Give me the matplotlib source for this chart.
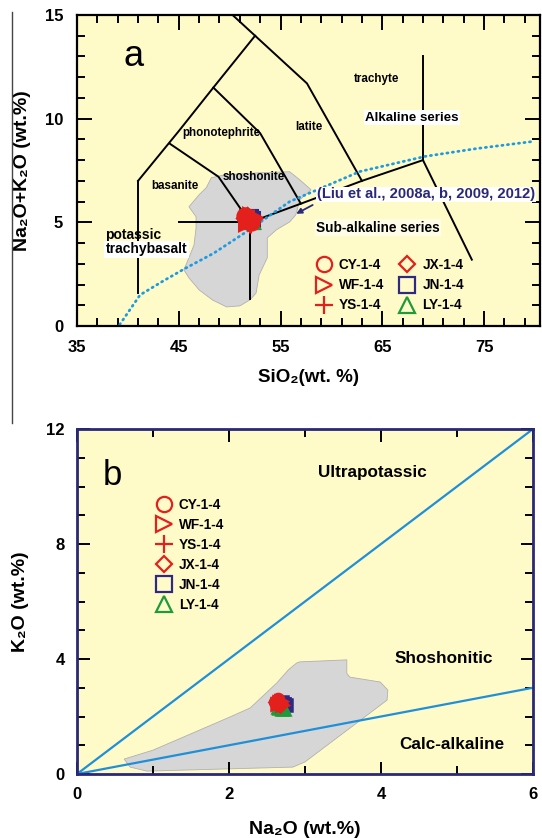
import matplotlib.pyplot as plt
from matplotlib.lines import Line2D
import numpy as np

plt.rcParams['font.family'] = ['Liberation Sans', 'DejaVu Sans']
plt.rcParams['font.weight'] = 'bold'

# ---------------- datos panel a (TAS) ----------------
tas_lines = [
    [(41, 1.6), (41, 7.0)],
    [(41, 7.0), (45, 9.4), (48.4, 11.5), (52.5, 14.0)],
    [(50, 15.13), (52.5, 14.0), (57.6, 11.7), (63, 7.0)],
    [(44.1, 8.8), (48.9, 7.2), (52, 5.0)],
    [(45, 5.0), (52, 5.0)],
    [(52, 1.3), (52, 5.0)],
    [(52, 5.0), (57, 5.9), (63, 7.0), (69, 8.0)],
    [(48.4, 11.5), (53, 9.3), (57, 5.9)],
    [(69, 8.0), (69, 13.0)],
    [(69, 8.0), (73.8, 3.2)],
]

curve_sio2 = [39.2, 41.2, 43.4, 45.6, 48.4, 51.7, 55.9, 62.8, 69.2, 74.3, 79.8]
curve_alk = [0.07, 1.5, 2.15, 2.77, 3.5, 4.56, 6.0, 7.45, 8.18, 8.56, 8.9]

field_a_sio2 = [48.2, 49.5, 52.9, 55.9, 56.9, 58.0, 56.9, 56.5, 55.9, 54.6, 53.7, 53.7,
                52.9, 52.6, 52.0, 51.0, 49.7, 48.3, 47.0, 46.0, 45.5, 46.0, 46.5,
                46.7, 46.7, 46.0, 47.0, 47.7]
field_a_alk = [7.15, 7.29, 7.39, 7.44, 7.05, 6.57, 6.09, 5.36, 5.02, 4.64, 4.25, 3.29,
               2.46, 1.59, 1.26, 0.97, 0.92, 1.26, 1.74, 2.32, 2.71, 3.29, 3.91,
               4.73, 5.27, 5.75, 6.33, 6.67]

# muestras
muestras = ["CY-1-4", "WF-1-4", "YS-1-4", "JX-1-4", "JN-1-4", "LY-1-4"]
marcadores = ["o", ">", "+", "D", "s", "^"]
tamanos = [1.0, 1.0, 1.15, 0.75, 1.0, 1.0]
colores = ["#e3201b", "#e3201b", "#e3201b", "#e3201b", "#2e2a82", "#1f9a3a"]

sio2 = {
    "CY-1-4": [51.7, 52.1, 51.5, 51.9],
    "WF-1-4": [51.9, 52.3, 51.7, 52.1],
    "YS-1-4": [51.8, 52.3, 51.6, 52.0],
    "JX-1-4": [51.7, 52.1, 51.9, 51.5],
    "JN-1-4": [51.9, 52.1, 51.8, 52.0],
    "LY-1-4": [51.9, 52.1, 51.8, 52.0],
}
alk = {
    "CY-1-4": [5.2, 5.0, 5.3, 5.1],
    "WF-1-4": [5.1, 5.2, 5.0, 5.3],
    "YS-1-4": [5.0, 5.2, 5.1, 4.9],
    "JX-1-4": [5.3, 5.1, 5.0, 5.2],
    "JN-1-4": [5.2, 5.1, 5.2, 5.1],
    "LY-1-4": [5.1, 5.1, 5.2, 5.1],
}
na2o = {
    "CY-1-4": [2.62, 2.66, 2.60, 2.64],
    "WF-1-4": [2.66, 2.70, 2.63, 2.68],
    "YS-1-4": [2.64, 2.68, 2.62, 2.70],
    "JX-1-4": [2.65, 2.69, 2.61, 2.67],
    "JN-1-4": [2.72, 2.75, 2.70, 2.73],
    "LY-1-4": [2.66, 2.70, 2.64, 2.72],
}
k2o = {
    "CY-1-4": [2.55, 2.45, 2.50, 2.60],
    "WF-1-4": [2.50, 2.40, 2.45, 2.55],
    "YS-1-4": [2.45, 2.52, 2.40, 2.48],
    "JX-1-4": [2.48, 2.42, 2.52, 2.38],
    "JN-1-4": [2.45, 2.40, 2.50, 2.42],
    "LY-1-4": [2.28, 2.25, 2.32, 2.26],
}

# ---------------- datos panel b ----------------
limite_na2o = [0, 6]
limite_ultra = [0, 12]
limite_shosh = [0, 3]

field_b_na2o = [0.62, 0.70, 0.92, 2.84, 3.0, 4.08, 4.09, 3.99, 3.59, 3.55, 3.55, 2.93,
                2.89, 2.78, 2.63, 2.28, 2.01, 1.0]
field_b_k2o = [0.52, 0.24, 0.10, 0.24, 0.42, 2.57, 2.92, 3.2, 3.37, 3.5, 3.97, 3.9,
               3.86, 3.62, 3.17, 2.3, 1.98, 0.83]

amarillo = "#fffbc9"
azul = "#1f8fd8"
marino = "#2a2878"

fig = plt.figure(figsize=(5.42, 8.38), dpi=100)
ax = fig.add_axes([77 / 542, 1 - 326 / 838, 463 / 542, 311 / 838])
bx = fig.add_axes([77 / 542, 1 - 774 / 838, 456 / 542, 345 / 838])

# linea vertical suelta a la izquierda
fig.add_artist(Line2D([12 / 542, 12 / 542], [1 - 12 / 838, 1 - 423 / 838],
                      color="#444444", lw=1))

# ---------------- panel a ----------------
ax.set_facecolor(amarillo)
ax.fill(field_a_sio2, field_a_alk, facecolor="#d6d6d6", edgecolor="#b0b0b0",
        lw=0.6, zorder=1)
for seg in tas_lines:
    xs, ys = zip(*seg)
    ax.plot(xs, ys, color="black", lw=1.4, zorder=2)
ax.plot(curve_sio2, curve_alk, color="#1e9be0", lw=2, ls=(0, (0.4, 1.6)),
        dash_capstyle="round", zorder=2)

orden = ["JN-1-4", "LY-1-4", "CY-1-4", "WF-1-4", "YS-1-4", "JX-1-4"]
for nombre in orden:
    i = muestras.index(nombre)
    ax.plot(sio2[nombre], alk[nombre], ls="none", marker=marcadores[i],
            color=colores[i], mfc="none", mew=2.2, ms=11 * tamanos[i], zorder=3)

ax.set_xlim(35, 80.5)
ax.set_ylim(0, 15)
ax.set_xticks([35, 45, 55, 65, 75])
ax.set_xticks(np.arange(35, 81, 2), minor=True)
ax.set_yticks([0, 5, 10, 15])
ax.set_yticks(np.arange(0, 16, 1), minor=True)
ax.tick_params(which="both", direction="in", top=True, right=True, width=1.4,
               labelsize=12, pad=10)
ax.tick_params(which="major", length=11)
ax.tick_params(which="minor", length=6)
for s in ax.spines.values():
    s.set_linewidth(1.6)
ax.set_xlabel("SiO\u2082(wt. %)", fontsize=13.5, fontweight="bold", labelpad=10)
ax.set_ylabel("Na\u2082O+K\u2082O (wt.%)", fontsize=14, fontweight="bold", labelpad=10)

ax.text(40.6, 13.0, "a", fontsize=26, fontweight="normal", ha="center", va="center")
kw = dict(fontsize=8.4, fontweight="bold", ha="center", va="center", zorder=4)
ax.text(64.4, 11.9, "trachyte", **kw)
ax.text(57.8, 9.6, "latite", **kw)
ax.text(49.2, 9.3, "phonotephrite", **kw)
ax.text(52.4, 7.2, "shoshonite", **kw)
ax.text(44.6, 6.75, "basanite", **kw)
ax.text(67.9, 10.05, "Alkaline series", fontsize=9.6, fontweight="bold", ha="center",
        va="center", bbox=dict(facecolor="white", edgecolor="none", pad=1), zorder=4)
ax.text(37.8, 4.4, "potassic", fontsize=10, fontweight="bold", ha="left", va="center",
        zorder=4)
ax.text(37.8, 3.7, "trachybasalt", fontsize=10, fontweight="bold", ha="left",
        va="center", bbox=dict(facecolor="white", edgecolor="none", pad=1), zorder=4)
ax.text(69.3, 6.35, "(Liu et al., 2008a, b, 2009, 2012)", fontsize=10.6,
        fontweight="bold", color=marino, ha="center", va="center",
        bbox=dict(facecolor="white", edgecolor="none", pad=0.5), zorder=4)
ax.annotate("", xy=(56.3, 5.35), xytext=(58.4, 5.9),
            arrowprops=dict(arrowstyle="-|>", color=marino, lw=1.3,
                            mutation_scale=8), zorder=4)
ax.text(64.6, 4.75, "Sub-alkaline series", fontsize=9.8, fontweight="bold",
        ha="center", va="center",
        bbox=dict(facecolor="#fffde8", edgecolor="none", pad=1), zorder=4)

handles = [Line2D([], [], ls="none", marker=marcadores[i], color=colores[i],
                  mfc="none", mew=1.6, ms=11 * tamanos[i]) for i in range(len(muestras))]
ax.legend(handles, muestras, ncol=2, loc="upper left", bbox_to_anchor=(0.499, 0.240),
          frameon=False, handletextpad=0.46, labelspacing=0.45,
          columnspacing=1.05, borderpad=0, handlelength=1.3,
          prop=dict(weight="bold", size=9.8))

# ---------------- panel b ----------------
bx.set_facecolor(amarillo)
bx.fill(field_b_na2o, field_b_k2o, facecolor="#d6d6d6", edgecolor="#b0b0b0",
        lw=0.6, zorder=1)
bx.plot(limite_na2o, limite_ultra, color=azul, lw=1.6, zorder=2)
bx.plot(limite_na2o, limite_shosh, color=azul, lw=1.6, zorder=2)
for nombre in orden:
    i = muestras.index(nombre)
    bx.plot(na2o[nombre], k2o[nombre], ls="none", marker=marcadores[i],
            color=colores[i], mfc="none", mew=1.8, ms=8 * tamanos[i], zorder=3)

bx.set_xlim(0, 6)
bx.set_ylim(0, 12)
bx.set_xticks([0, 2, 4, 6])
bx.set_xticks(np.arange(0, 7, 1), minor=True)
bx.set_yticks([0, 4, 8, 12])
bx.set_yticks(np.arange(0, 13, 1), minor=True)
bx.tick_params(which="both", direction="in", top=True, right=True, width=1.4,
               labelsize=12, pad=9)
bx.tick_params(which="major", length=9)
bx.tick_params(which="minor", length=6)
for s in bx.spines.values():
    s.set_linewidth(2)
    s.set_color(marino)
bx.set_xlabel("Na\u2082O (wt.%)", fontsize=14, fontweight="bold", labelpad=14)
bx.set_ylabel("K\u2082O (wt.%)", fontsize=14, fontweight="bold", labelpad=12)

bx.text(0.46, 10.4, "b", fontsize=25, fontweight="normal", ha="center", va="center")
kwb = dict(fontsize=12.3, fontweight="bold", ha="center", va="center")
bx.text(3.88, 10.5, "Ultrapotassic", **kwb)
bx.text(4.82, 4.03, "Shoshonitic", **kwb)
bx.text(4.93, 1.04, "Calc-alkaline", **kwb)

handles_b = [Line2D([], [], ls="none", marker=marcadores[i], color=colores[i],
                    mfc="none", mew=1.6, ms=11 * tamanos[i]) for i in range(len(muestras))]
bx.legend(handles_b, muestras, loc="upper left", bbox_to_anchor=(0.156, 0.821),
          frameon=False, handletextpad=0.46, labelspacing=0.45, borderpad=0,
          handlelength=1.3, prop=dict(weight="bold", size=9.8))

fig.savefig("out.png", dpi=100)
